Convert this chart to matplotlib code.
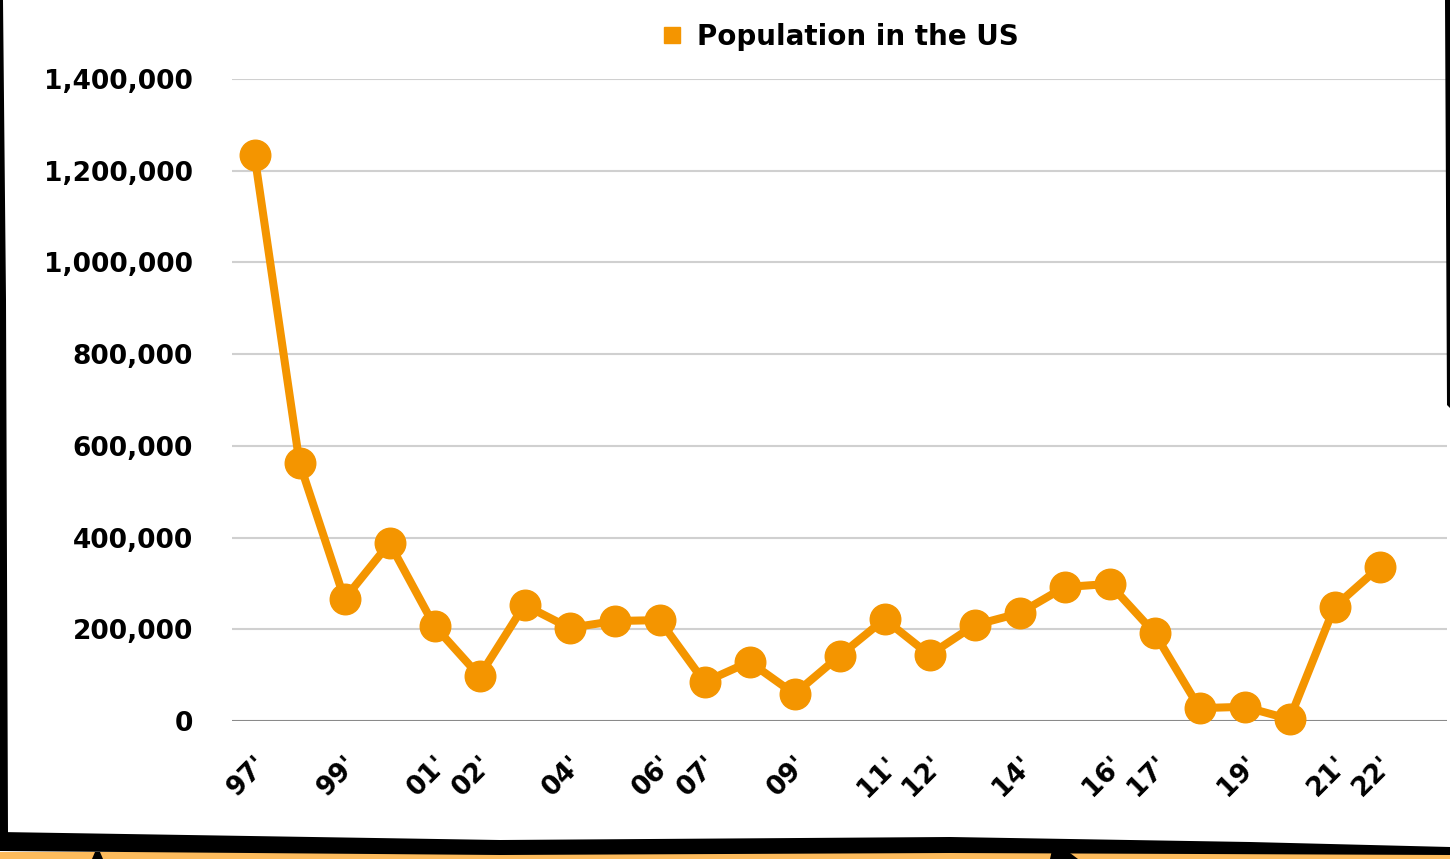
import matplotlib
matplotlib.use("Agg")
import matplotlib.pyplot as plt
from matplotlib.patches import Polygon, Rectangle
from matplotlib.ticker import FuncFormatter

# Datos (un punto por año, 1997-2022)
years = ["97'", "98'", "99'", "00'", "01'", "02'", "03'", "04'", "05'", "06'",
         "07'", "08'", "09'", "10'", "11'", "12'", "13'", "14'", "15'", "16'",
         "17'", "18'", "19'", "20'", "21'", "22'"]
population = [1234000, 563000, 266000, 388000, 207000, 98000, 253000, 203000,
              218000, 220000, 85000, 129000, 59000, 142000, 222000, 144000,
              209000, 235000, 292000, 299000, 192000, 28000, 31000, 4000,
              249000, 336000]
# etiquetas que el grafico original muestra en el eje x
shown_labels = ["97'", "99'", "01'", "02'", "04'", "06'", "07'", "09'",
                "11'", "12'", "14'", "16'", "17'", "19'", "21'", "22'"]
y_ticks = [0, 200000, 400000, 600000, 800000, 1000000, 1200000, 1400000]
series_name = "Population in the US"

orange = '#F49500'
W, H = 1450, 859

plt.rcParams['font.family'] = ['DejaVu Sans']
fig = plt.figure(figsize=(W / 100, H / 100), dpi=100)
fig.patch.set_facecolor('white')

# area del grafico en pixeles
left, right, top, bottom = 232, 1447, 79, 721
ax = fig.add_axes([left / W, 1 - bottom / H, (right - left) / W, (bottom - top) / H])

x = list(range(len(years)))
ax.plot(x, population, color=orange, linewidth=5.8, marker='o', markersize=22,
        label=series_name, zorder=3, clip_on=False)

ax.set_xlim(-0.5, len(years) + 0.5)
ax.set_ylim(0, 1400000)
ax.set_yticks(y_ticks)
ax.yaxis.set_major_formatter(FuncFormatter(lambda v, p: f'{int(v):,}'))

for v in y_ticks:
    if v == 0:
        ax.axhline(v, color='#8a8a8a', linewidth=1.5, zorder=1)
    else:
        ax.axhline(v, color='#d0d0d0', linewidth=1.5, zorder=1)

# va='top' con rotation_mode='anchor' corre el texto hacia abajo a la derecha
ax.set_xticks(x)
ax.set_xticklabels([y if y in shown_labels else '' for y in years],
                   rotation=45, ha='right', va='top', rotation_mode='anchor')

ax.tick_params(axis='x', length=0, pad=22, labelsize=19)
ax.tick_params(axis='y', length=0, pad=28, labelsize=19)
for lbl in ax.get_xticklabels() + ax.get_yticklabels():
    lbl.set_fontweight('bold')

for s in ax.spines.values():
    s.set_visible(False)

leg = ax.legend(loc='center', bbox_to_anchor=(0.5, 1 + 42 / 642), frameon=False,
                handlelength=0.8, handletextpad=0.5,
                prop={'size': 20, 'weight': 'bold'})
for h in leg.legend_handles:
    h.set_linestyle('')
    h.set_marker('s')
    h.set_markersize(11)

# marco dibujado a mano alrededor del grafico
def px(xp, yp):
    return (xp / W, 1 - yp / H)

fig.patches.append(Rectangle(px(0, 859), 1, 7 / H, transform=fig.transFigure,
                             facecolor='#FDBB5C', edgecolor='none', zorder=0))
band = [px(0, 832), px(500, 840), px(950, 837), px(1250, 842), px(1450, 847),
        px(1450, 855), px(950, 853), px(500, 855), px(0, 851)]
fig.patches.append(Polygon(band, closed=True, transform=fig.transFigure,
                           facecolor='black', edgecolor='none', zorder=5))
left_edge = [px(0, 0), px(3, 0), px(6, 300), px(8, 835), px(0, 840)]
fig.patches.append(Polygon(left_edge, closed=True, transform=fig.transFigure,
                           facecolor='black', edgecolor='none', zorder=5))
right_edge = [px(1445, 0), px(1450, 0), px(1450, 408), px(1447, 405)]
fig.patches.append(Polygon(right_edge, closed=True, transform=fig.transFigure,
                           facecolor='black', edgecolor='none', zorder=5))
fig.patches.append(Polygon([px(92, 859), px(95, 852), px(100, 852), px(103, 859)],
                           closed=True, transform=fig.transFigure,
                           facecolor='black', edgecolor='none', zorder=5))
fig.patches.append(Polygon([px(1050, 859), px(1052, 850), px(1066, 850), px(1078, 859)],
                           closed=True, transform=fig.transFigure,
                           facecolor='black', edgecolor='none', zorder=5))

fig.savefig('out.png', dpi=100, facecolor='white')
